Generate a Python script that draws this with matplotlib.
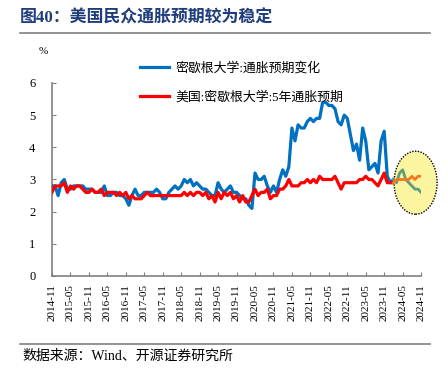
import numpy as np
import pandas as pd
import matplotlib
matplotlib.use('Agg')
import matplotlib.pyplot as plt
from matplotlib.patches import Ellipse

plt.rcParams['font.family'] = ['Liberation Serif', 'Noto Sans CJK SC']

# Monthly data, 2014-11 onwards
start = '2014-11'
# 密歇根大学:通胀预期变化 (2014-11 .. 2024-02)
blue = [2.8, 2.8, 2.5, 2.9, 3.0, 2.7, 2.7, 2.8, 2.8, 2.8,
        2.8, 2.7, 2.7, 2.7, 2.6, 2.6, 2.6, 2.8, 2.5, 2.5,
        2.6, 2.6, 2.5, 2.5, 2.4, 2.2, 2.5, 2.7, 2.5, 2.5,
        2.6, 2.6, 2.6, 2.6, 2.7, 2.6, 2.4, 2.4, 2.6, 2.7,
        2.8, 2.7, 2.8, 3.0, 2.9, 3.0, 2.8, 2.9, 2.8, 2.7,
        2.7, 2.6, 2.5, 2.5, 2.9, 2.7, 2.6, 2.7, 2.8, 2.6,
        2.6, 2.5, 2.4, 2.4, 2.2, 2.1, 3.2, 3.0, 3.0, 3.1,
        2.8, 2.6, 2.8, 2.6, 3.0, 3.3, 3.1, 3.4, 4.6, 4.2,
        4.7, 4.6, 4.6, 4.8, 4.9, 4.8, 4.9, 4.9, 5.4, 5.4,
        5.3, 5.3, 5.2, 4.8, 4.7, 5.0, 4.9, 4.4, 3.9, 4.1,
        3.6, 4.6, 4.2, 3.3, 3.4, 3.5, 3.2, 4.2, 4.5, 3.1,
        2.9, 3.0]
# 美国:密歇根大学:5年通胀预期 (2014-11 .. 2024-02)
red = [2.6, 2.8, 2.8, 2.8, 2.9, 2.6, 2.8, 2.7, 2.8, 2.8,
       2.7, 2.6, 2.6, 2.7, 2.6, 2.6, 2.7, 2.5, 2.6, 2.6,
       2.6, 2.5, 2.6, 2.5, 2.6, 2.4, 2.5, 2.4, 2.4, 2.4,
       2.5, 2.6, 2.5, 2.5, 2.5, 2.5, 2.5, 2.5, 2.5, 2.5,
       2.5, 2.5, 2.5, 2.6, 2.5, 2.6, 2.5, 2.6, 2.6, 2.5,
       2.6, 2.4, 2.5, 2.3, 2.6, 2.4, 2.6, 2.5, 2.6, 2.4,
       2.5, 2.3, 2.5, 2.3, 2.3, 2.5, 2.7, 2.5, 2.6, 2.6,
       2.7, 2.4, 2.5, 2.5, 2.7, 2.7, 2.8, 3.0, 2.8, 2.8,
       2.8, 2.9, 2.9, 3.0, 2.9, 3.0, 2.9, 3.1, 3.0, 3.0,
       3.0, 3.0, 3.1, 2.9, 2.7, 2.9, 2.9, 2.9, 2.9, 2.9,
       3.0, 3.0, 3.1, 3.0, 3.0, 2.9, 2.8, 3.0, 3.2, 2.9,
       2.9, 2.9]
# highlighted recent months (2024-02 .. 2024-11)
green = [3.0, 2.9, 3.2, 3.3, 3.0, 2.9, 2.8, 2.7, 2.7, 2.6]
orange = [2.9, 3.0, 3.0, 3.0, 3.0, 3.0, 3.1, 3.0, 3.1, 3.1]

n_total = len(blue) + len(green) - 1
dates = pd.date_range(start, periods=n_total, freq='MS')
x_all = np.arange(n_total)
x_main = x_all[:len(blue)]
x_recent = x_all[len(blue) - 1:]

tick_pos = x_all[::6]
tick_labels = [d.strftime('%Y-%m') for d in dates[::6]]

fig = plt.figure(figsize=(4.48, 3.68), dpi=100)
ax = fig.add_axes([0.116, 0.25, 0.824, 0.5245])

ax.plot(x_main, blue, color='#0070C0', lw=2.3, label='密歇根大学:通胀预期变化', zorder=3)
ax.plot(x_main, red, color='#FF0000', lw=2.3, label='美国:密歇根大学:5年通胀预期', zorder=3)

ell = Ellipse((118.2, 2.9), 14, 1.96, facecolor='#FAF59E', edgecolor='black',
              linestyle=(0, (1, 1)), lw=1.0, zorder=4, clip_on=False)
ax.add_patch(ell)

ax.plot(x_recent, green, color='#5E9E7C', lw=2.0, zorder=5)
ax.plot(x_recent, orange, color='#F47920', lw=2.0, zorder=5)

ax.set_xlim(0, n_total - 1)
ax.set_ylim(0, 6)
ax.set_yticks(range(0, 7))
ax.set_xticks(tick_pos)
ax.set_xticklabels(tick_labels, rotation=90)
ax.tick_params(axis='y', direction='in', length=3, pad=12, labelsize=9, color='#808080')
ax.tick_params(axis='x', direction='in', length=3, pad=6, labelsize=8, color='#808080')
for s in ['top', 'right']:
    ax.spines[s].set_visible(False)
for s in ['left', 'bottom']:
    ax.spines[s].set_color('#808080')
    ax.spines[s].set_linewidth(1.2)

fig.text(43 / 448, 1 - 52 / 368, '%', fontsize=8, ha='center', va='center')

fig.legend(loc='upper left', bbox_to_anchor=(128 / 448, 1 - 50 / 368), frameon=False,
           fontsize=9.3, handlelength=2.3, labelspacing=1.3, handletextpad=0.5)

fig.text(20 / 448, 1 - 18 / 368, '图40：美国民众通胀预期较为稳定', fontsize=12.2,
         fontweight='bold', color='#1F3D7A', ha='left', va='center')
fig.add_artist(plt.Line2D([20 / 448, 430 / 448], [1 - 33 / 368] * 2, color='#808080', lw=1.2))
fig.add_artist(plt.Line2D([20 / 448, 430 / 448], [1 - 344 / 368] * 2, color='#808080', lw=1.2))
fig.text(22 / 448, 1 - 356 / 368, '数据来源：Wind、开源证券研究所', fontsize=10,
         ha='left', va='center')

fig.savefig('out.png', dpi=100)
